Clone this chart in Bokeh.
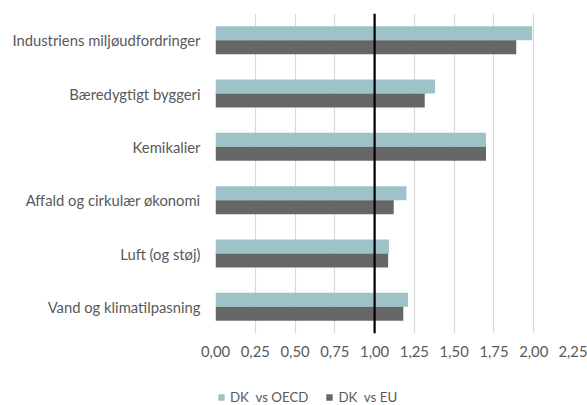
from bokeh.plotting import figure
from bokeh.models import ColumnDataSource, FactorRange, FixedTicker, Span, Legend, LegendItem, Range1d
from bokeh.layouts import column
from bokeh.transform import dodge
from bokeh.embed import file_html
from bokeh.resources import INLINE

categories = [
    "Industriens miljøudfordringer",
    "Bæredygtigt byggeri",
    "Kemikalier",
    "Affald og cirkulær økonomi",
    "Luft (og støj)",
    "Vand og klimatilpasning",
]
dk_vs_oecd = [1.99, 1.38, 1.70, 1.20, 1.09, 1.21]
dk_vs_eu = [1.89, 1.315, 1.70, 1.12, 1.085, 1.18]
series_names = ["DK  vs OECD", "DK  vs EU"]
tick_values = [0, 0.25, 0.5, 0.75, 1.0, 1.25, 1.5, 1.75, 2.0, 2.25]
tick_labels = ["0,00", "0,25", "0,50", "0,75", "1,00", "1,25", "1,50", "1,75", "2,00", "2,25"]
reference_value = 1.0

FONT = "Lato"
FSIZE = "14.8px"
TXT = "#595959"
C_OECD = "#9dc3c9"
C_EU = "#666666"

src = ColumnDataSource(dict(cat=categories, oecd=dk_vs_oecd, eu=dk_vs_eu))

p = figure(
    width=587, height=380,
    y_range=FactorRange(*reversed(categories)),
    x_range=(tick_values[0], tick_values[-1]),
    output_backend="svg", toolbar_location=None,
    min_border_left=215, min_border_top=13, min_border_right=14, min_border_bottom=47,
)
p.outline_line_color = None

bar_h = 0.263
p.hbar(y=dodge("cat", bar_h / 2, range=p.y_range), right="oecd", left=0, height=bar_h,
       source=src, fill_color=C_OECD, line_color=None)
p.hbar(y=dodge("cat", -bar_h / 2, range=p.y_range), right="eu", left=0, height=bar_h,
       source=src, fill_color=C_EU, line_color=None)

p.add_layout(Span(location=reference_value, dimension="height", line_color="black", line_width=2.2))

p.xaxis.ticker = FixedTicker(ticks=tick_values)
p.xaxis.major_label_overrides = {v: l for v, l in zip(tick_values, tick_labels)}
for ax in (p.xaxis[0], p.yaxis[0]):
    ax.axis_line_color = None
    ax.major_tick_line_color = None
    ax.minor_tick_line_color = None
    ax.major_tick_out = 0
    ax.major_tick_in = 0
    ax.major_label_text_font = FONT
    ax.major_label_text_font_size = FSIZE
    ax.major_label_text_color = TXT
p.xaxis.major_label_standoff = 12
p.yaxis.major_label_standoff = 15

p.xgrid.grid_line_color = "#d9d9d9"
p.xgrid.grid_line_width = 1.2
p.ygrid.grid_line_color = None

# legend strip below the chart (its frame is aligned with the main frame by the column layout);
# its renderers only supply the legend swatches, so they are kept out of view.
p2 = figure(
    width=587, height=25,
    y_range=FactorRange(*reversed(categories)), x_range=Range1d(10, 11),
    output_backend="svg", toolbar_location=None,
    x_axis_location=None, y_axis_location=None,
    min_border_left=0, min_border_right=0, min_border_top=0, min_border_bottom=0,
)
p2.outline_line_color = None
p2.xgrid.grid_line_color = None
p2.ygrid.grid_line_color = None
l1 = p2.hbar(y="cat", right="oecd", left=0, height=0, source=src, fill_color=C_OECD, line_color=None)
l2 = p2.hbar(y="cat", right="eu", left=0, height=0, source=src, fill_color=C_EU, line_color=None)

legend = Legend(
    items=[LegendItem(label=series_names[0], renderers=[l1]),
           LegendItem(label=series_names[1], renderers=[l2])],
    orientation="horizontal", location=(2, 0),
    glyph_width=8, glyph_height=8, label_standoff=5, spacing=17,
    padding=0, margin=0, border_line_color=None, background_fill_alpha=0,
    label_text_font=FONT, label_text_font_size="13.3px", label_text_color=TXT,
    label_height=16,
)
p2.add_layout(legend)

layout = column(p, p2, spacing=0)
open("out.html", "w").write(file_html(layout, INLINE))
